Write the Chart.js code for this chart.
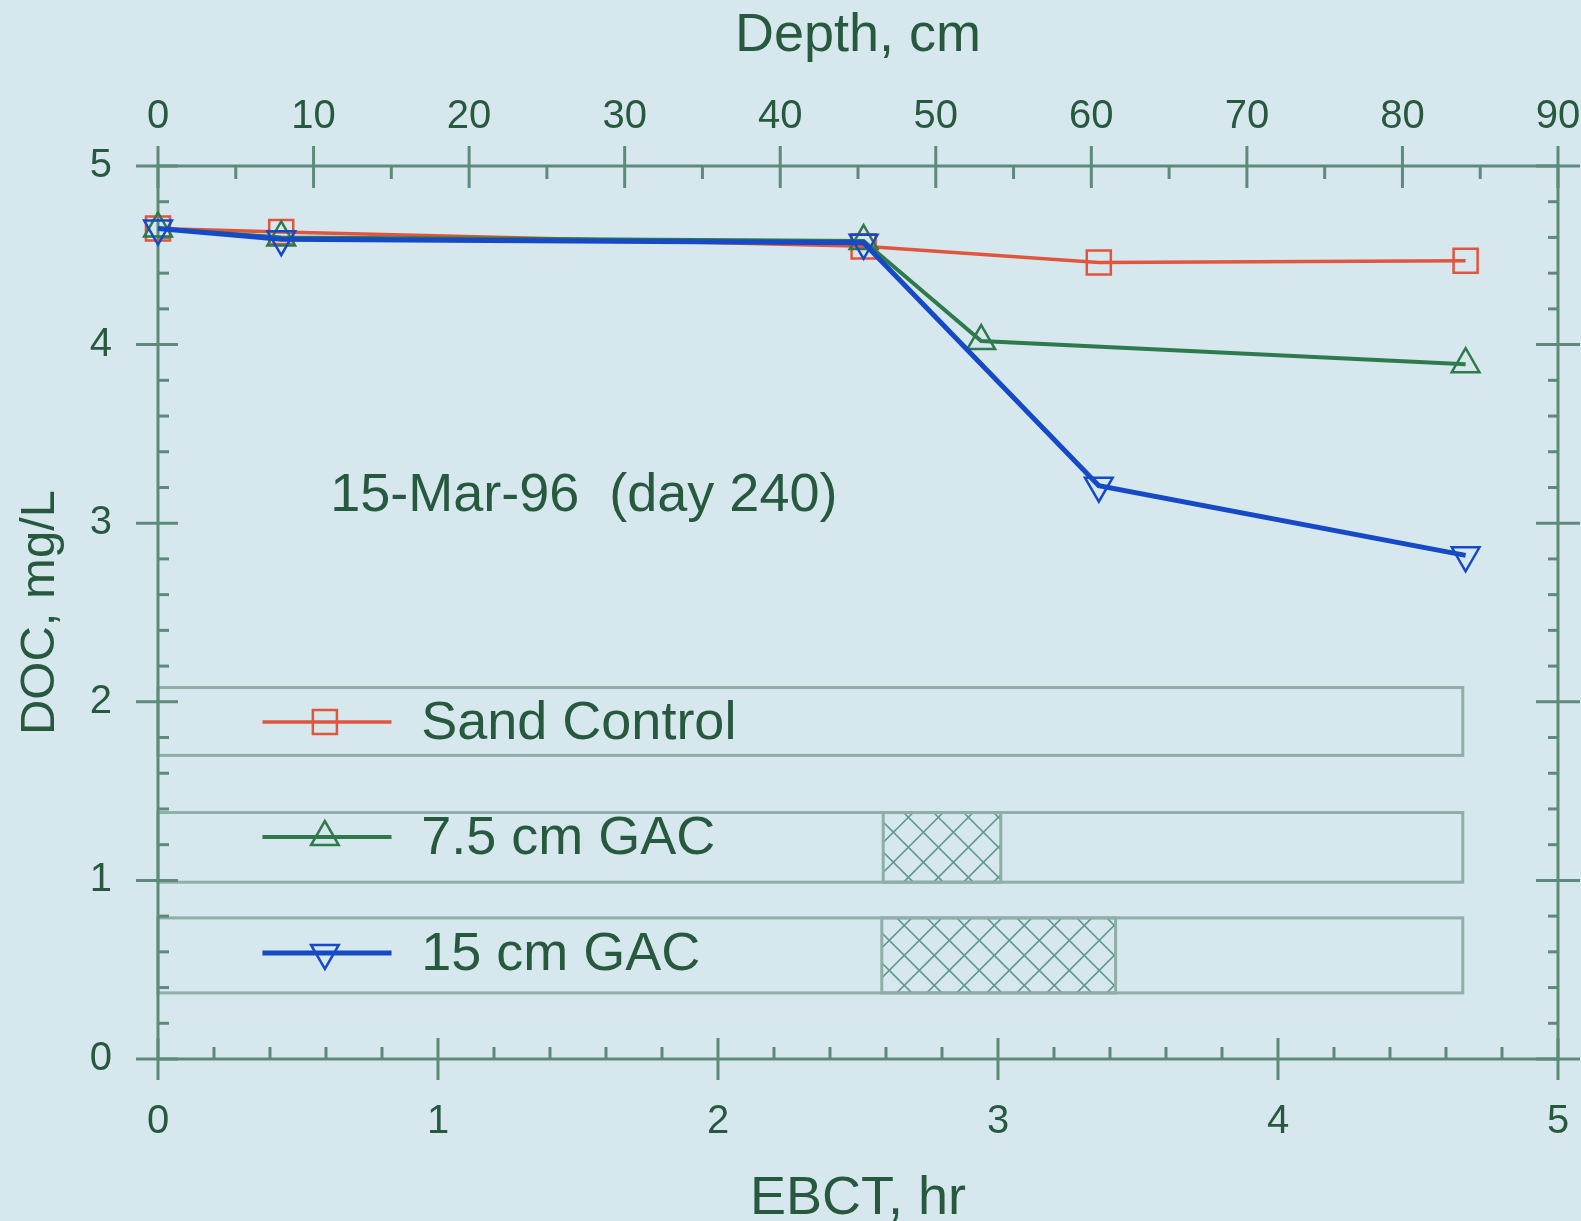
<!DOCTYPE html>
<html>
<head>
<meta charset="utf-8">
<script src="https://cdn.jsdelivr.net/npm/chart.js@4.4.1/dist/chart.umd.min.js"></script>
<style>
  html, body { margin: 0; padding: 0; background: #d6e8ee; }
  canvas { display: block; }
</style>
</head>
<body>
<canvas id="doc_chart" width="1581" height="1221"></canvas>
<script>
// values (EBCT in hr, DOC in mg/L)
const seriesNames = ['Sand Control', '7.5 cm GAC', '15 cm GAC'];
const sandEbct  = [0, 0.44, 2.52, 3.36, 4.67];
const sandDoc   = [4.65, 4.63, 4.55, 4.46, 4.47];
const gac75Ebct = [0, 0.44, 2.52, 2.94, 4.67];
const gac75Doc  = [4.65, 4.60, 4.58, 4.02, 3.89];
const gac15Ebct = [0, 0.44, 2.52, 3.36, 4.67];
const gac15Doc  = [4.65, 4.59, 4.57, 3.21, 2.82];

const ebctTicks  = [0, 1, 2, 3, 4, 5];
const depthTicks = [0, 10, 20, 30, 40, 50, 60, 70, 80, 90];
const docTicks   = [0, 1, 2, 3, 4, 5];

// column sketches below the curves (DOC units top/bottom, EBCT units for the GAC layer)
const columnTops    = [2.08, 1.38, 0.79];
const columnBottoms = [1.70, 0.99, 0.37];
const columnEnd = 4.66;
const gacLayerFrom = [null, 2.59, 2.585];
const gacLayerTo   = [null, 3.01, 3.42];

const noteText = '15-Mar-96  (day 240)';

const family = '"Liberation Sans", Arial, Helvetica, sans-serif';
const textColor = '#27593f';
const axisColor = '#5d8a79';
const boxColor = '#8eaea6';
const hatchColor = '#5f988c';
const colors = ['#e2553d', '#2f7a4c', '#1549c6'];
const widths = [3.5, 4, 5];
const styles = [
  {shape: 'rect', rot: 0, r: 17},
  {shape: 'triangle', rot: 0, r: 16},
  {shape: 'triangle', rot: 180, r: 16}
];

function line(ctx, x1, y1, x2, y2) {
  ctx.beginPath(); ctx.moveTo(x1, y1); ctx.lineTo(x2, y2); ctx.stroke();
}

function minorValues(min, max, step, majors) {
  const out = [];
  for (let i = 0; min + i * step <= max + 1e-9; i++) {
    const v = +(min + i * step).toFixed(4);
    if (!majors.includes(v)) out.push(v);
  }
  return out;
}

function marker(ctx, st, x, y, color) {
  const rad = st.rot * Math.PI / 180;
  ctx.save();
  ctx.strokeStyle = color;
  ctx.lineWidth = 2.5;
  ctx.beginPath();
  if (st.shape === 'rect') {
    const s = st.r * Math.SQRT1_2;
    ctx.rect(x - s, y - s, 2 * s, 2 * s);
  } else {
    let a = rad;
    ctx.moveTo(x + Math.sin(a) * st.r, y - Math.cos(a) * st.r);
    a += 2 * Math.PI / 3;
    ctx.lineTo(x + Math.sin(a) * st.r, y - Math.cos(a) * st.r);
    a += 2 * Math.PI / 3;
    ctx.lineTo(x + Math.sin(a) * st.r, y - Math.cos(a) * st.r);
    ctx.closePath();
  }
  ctx.stroke();
  ctx.restore();
}

const framePlugin = {
  id: 'frame',
  beforeDatasetsDraw(chart) {
    const {ctx, chartArea: a, scales} = chart;
    const {x, x2, y} = scales;
    ctx.save();

    // column sketches with hatched GAC layers
    ctx.strokeStyle = boxColor;
    ctx.lineWidth = 3;
    columnTops.forEach((top, i) => {
      const yt = y.getPixelForValue(top), yb = y.getPixelForValue(columnBottoms[i]);
      const xl = x.getPixelForValue(0), xr = x.getPixelForValue(columnEnd);
      ctx.strokeRect(xl, yt, xr - xl, yb - yt);
      if (gacLayerFrom[i] !== null) {
        const hl = x.getPixelForValue(gacLayerFrom[i]), hr = x.getPixelForValue(gacLayerTo[i]);
        ctx.save();
        ctx.beginPath();
        ctx.rect(hl, yt, hr - hl, yb - yt);
        ctx.clip();
        ctx.strokeStyle = hatchColor;
        ctx.lineWidth = 1.6;
        const h = yb - yt;
        for (let px = hl - h - 30; px < hr + h + 30; px += 30) {
          line(ctx, px, yb, px + h, yt);
          line(ctx, px, yt, px + h, yb);
        }
        ctx.restore();
        ctx.strokeRect(hl, yt, hr - hl, yb - yt);
      }
    });

    // legend rows inside the sketches
    const rowY = [1.887, 1.243, 0.594];
    ctx.font = '54px ' + family;
    ctx.textBaseline = 'middle';
    ctx.textAlign = 'left';
    rowY.forEach((v, i) => {
      const py = y.getPixelForValue(v);
      ctx.strokeStyle = colors[i];
      ctx.lineWidth = widths[i];
      line(ctx, x.getPixelForValue(0.373), py, x.getPixelForValue(0.834), py);
      marker(ctx, styles[i], x.getPixelForValue(0.596), py, colors[i]);
      ctx.fillStyle = textColor;
      ctx.fillText(seriesNames[i], x.getPixelForValue(0.94), py + 2);
    });

    // note
    ctx.font = '54px ' + family;
    ctx.fillStyle = textColor;
    ctx.fillText(noteText, x.getPixelForValue(0.615), y.getPixelForValue(3.15));

    // frame
    ctx.strokeStyle = axisColor;
    ctx.lineWidth = 3;
    ctx.strokeRect(a.left, a.top, a.right - a.left, a.bottom - a.top);

    // bottom EBCT ticks
    ebctTicks.forEach(v => { const p = x.getPixelForValue(v); line(ctx, p, a.bottom - 21, p, a.bottom + 21); });
    minorValues(0, 5, 0.2, ebctTicks).forEach(v => { const p = x.getPixelForValue(v); line(ctx, p, a.bottom - 12, p, a.bottom); });
    // top depth ticks
    depthTicks.forEach(v => { const p = x2.getPixelForValue(v); line(ctx, p, a.top - 20, p, a.top + 22); });
    minorValues(0, 90, 5, depthTicks).forEach(v => { const p = x2.getPixelForValue(v); line(ctx, p, a.top, p, a.top + 13); });
    // left and right DOC ticks
    docTicks.forEach(v => {
      const p = y.getPixelForValue(v);
      line(ctx, a.left - 22, p, a.left + 20, p);
      line(ctx, a.right - 22, p, a.right + 22, p);
    });
    minorValues(0, 5, 0.2, docTicks).forEach(v => {
      const p = y.getPixelForValue(v);
      line(ctx, a.left, p, a.left + 11, p);
      line(ctx, a.right - 10, p, a.right, p);
    });
    ctx.restore();
  }
};

function series(xs, ys, i) {
  return {
    label: seriesNames[i],
    data: xs.map((v, k) => ({x: v, y: ys[k]})),
    showLine: true,
    borderColor: colors[i],
    borderWidth: widths[i],
    pointStyle: styles[i].shape,
    pointRotation: styles[i].rot,
    pointRadius: styles[i].r,
    pointHoverRadius: styles[i].r,
    pointBorderColor: colors[i],
    pointBackgroundColor: 'rgba(0,0,0,0)',
    pointBorderWidth: 2.5,
    order: 3 - i,
    clip: false
  };
}

// fixed box sizes so the plot area sits where the original has it
function fixBox(size) {
  return s => {
    if (s.isHorizontal()) s.height = size; else s.width = size;
    s.paddingLeft = 0; s.paddingRight = 0; s.paddingTop = 0; s.paddingBottom = 0;
  };
}

const tickFont = {size: 40, family: family};

new Chart(document.getElementById('doc_chart'), {
  type: 'scatter',
  data: {
    datasets: [
      series(sandEbct, sandDoc, 0),
      series(gac75Ebct, gac75Doc, 1),
      series(gac15Ebct, gac15Doc, 2)
    ]
  },
  options: {
    responsive: false,
    animation: false,
    layout: {padding: 0},
    plugins: {legend: {display: false}, tooltip: {enabled: false}},
    scales: {
      x: {
        type: 'linear', position: 'bottom', min: 0, max: 5,
        grid: {display: false, drawTicks: false}, border: {display: false},
        afterBuildTicks: s => { s.ticks = ebctTicks.map(v => ({value: v})); },
        afterFit: fixBox(162),
        ticks: {color: textColor, font: tickFont, padding: 39, maxRotation: 0, autoSkip: false},
        title: {display: true, text: 'EBCT, hr', color: textColor,
                font: {size: 54, family: family, lineHeight: 0.8}, padding: 0}
      },
      x2: {
        type: 'linear', position: 'top', min: 0, max: 90,
        grid: {display: false, drawTicks: false}, border: {display: false},
        afterBuildTicks: s => { s.ticks = depthTicks.map(v => ({value: v})); },
        afterFit: fixBox(166),
        ticks: {color: textColor, font: tickFont, padding: 25, maxRotation: 0, autoSkip: false},
        title: {display: true, text: 'Depth, cm', color: textColor,
                font: {size: 54, family: family, lineHeight: 1.2}, padding: {top: 4, bottom: 0}}
      },
      y: {
        type: 'linear', position: 'left', min: 0, max: 5,
        grid: {display: false, drawTicks: false}, border: {display: false},
        afterBuildTicks: s => { s.ticks = docTicks.map(v => ({value: v})); },
        afterFit: fixBox(158),
        ticks: {color: textColor, font: tickFont, padding: 46, autoSkip: false},
        title: {display: true, text: 'DOC, mg/L', color: textColor,
                font: {size: 49, family: family, lineHeight: 1.2}, padding: {top: 11, bottom: 0}}
      },
      y2: {
        type: 'linear', position: 'right', min: 0, max: 5,
        grid: {display: false, drawTicks: false}, border: {display: false},
        afterFit: fixBox(23),
        ticks: {display: false}
      }
    }
  },
  plugins: [framePlugin]
});
</script>
</body>
</html>
